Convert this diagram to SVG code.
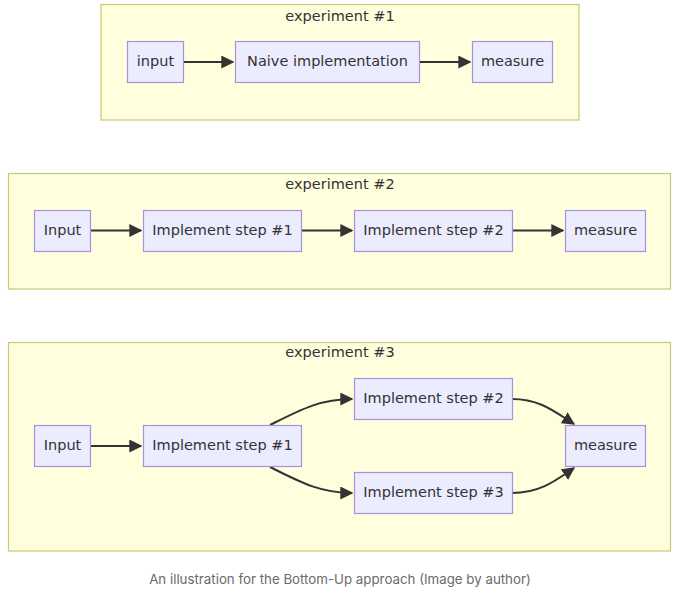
<svg xmlns="http://www.w3.org/2000/svg" width="680" height="590" viewBox="0 0 680 590">
<style>
.cl{fill:#ffffde;stroke:#c8c878;stroke-width:1.2}
.nd{fill:#ececff;stroke:#a88fdf;stroke-width:1.2}
.t{font-family:"DejaVu Sans",Verdana,sans-serif;font-size:14.5px;fill:#333;text-anchor:middle;dominant-baseline:central}
.e{fill:none;stroke:#333;stroke-width:2;marker-end:url(#ah)}
.cap{font-family:Inter,"Noto Sans",sans-serif;font-size:13.3px;fill:#6b6b6b;text-anchor:middle}
</style>
<defs>
<marker id="ah" viewBox="0 0 10 10" refX="9" refY="5" markerWidth="6.5" markerHeight="6.5" markerUnits="strokeWidth" orient="auto">
<path d="M0,0 L10,5 L0,10 z" fill="#333"/>
</marker>
</defs>
<rect width="680" height="590" fill="#fff"/>
<g id="cluster1"><rect class="cl" x="101" y="4.5" width="478" height="115.5"/><text class="t" x="340" y="16">experiment #1</text></g>
<g id="cluster2"><rect class="cl" x="8.5" y="173.5" width="662" height="115.5"/><text class="t" x="340" y="184">experiment #2</text></g>
<g id="cluster3"><rect class="cl" x="8.5" y="342.5" width="662" height="208.5"/><text class="t" x="340" y="352">experiment #3</text></g>
<g id="connectors">
<path class="e" d="M183,62 L233,62"/>
<path class="e" d="M419,62 L470,62"/>
<path class="e" d="M90,230.5 L141,230.5"/>
<path class="e" d="M301,230.5 L352,230.5"/>
<path class="e" d="M512,230.5 L563,230.5"/>
<path class="e" d="M90,446 L141,446"/>
<path class="e" d="M270,425 C300,410 320,399 352,399"/>
<path class="e" d="M270,467 C300,482 320,493 352,493"/>
<path class="e" d="M512,399 C540,399 555,412 574,424"/>
<path class="e" d="M512,493 C540,493 555,481 574,468"/>
</g>
<g id="e1-input"><rect class="nd" x="127.5" y="41.5" width="56" height="41"/><text class="t" x="155.5" y="61">input</text></g>
<g id="e1-naive"><rect class="nd" x="235.5" y="41.5" width="184" height="41"/><text class="t" x="327.5" y="61">Naive implementation</text></g>
<g id="e1-measure"><rect class="nd" x="472.5" y="41.5" width="80" height="41"/><text class="t" x="512.5" y="61">measure</text></g>
<g id="e2-input"><rect class="nd" x="34.5" y="210.5" width="56" height="41"/><text class="t" x="62.5" y="229.5">Input</text></g>
<g id="e2-step1"><rect class="nd" x="143.5" y="210.5" width="158" height="41"/><text class="t" x="222.5" y="229.5">Implement step #1</text></g>
<g id="e2-step2"><rect class="nd" x="354.5" y="210.5" width="158" height="41"/><text class="t" x="433.5" y="229.5">Implement step #2</text></g>
<g id="e2-measure"><rect class="nd" x="565.5" y="210.5" width="80" height="41"/><text class="t" x="605.5" y="229.5">measure</text></g>
<g id="e3-input"><rect class="nd" x="34.5" y="425.5" width="56" height="41"/><text class="t" x="62.5" y="445">Input</text></g>
<g id="e3-step1"><rect class="nd" x="143.5" y="425.5" width="158" height="41"/><text class="t" x="222.5" y="445">Implement step #1</text></g>
<g id="e3-step2"><rect class="nd" x="354.5" y="378.5" width="158" height="41"/><text class="t" x="433.5" y="398">Implement step #2</text></g>
<g id="e3-step3"><rect class="nd" x="354.5" y="472.5" width="158" height="41"/><text class="t" x="433.5" y="492">Implement step #3</text></g>
<g id="e3-measure"><rect class="nd" x="565.5" y="425.5" width="80" height="41"/><text class="t" x="605.5" y="445">measure</text></g>
<text class="cap" x="340" y="584">An illustration for the Bottom-Up approach (Image by author)</text>
</svg>
